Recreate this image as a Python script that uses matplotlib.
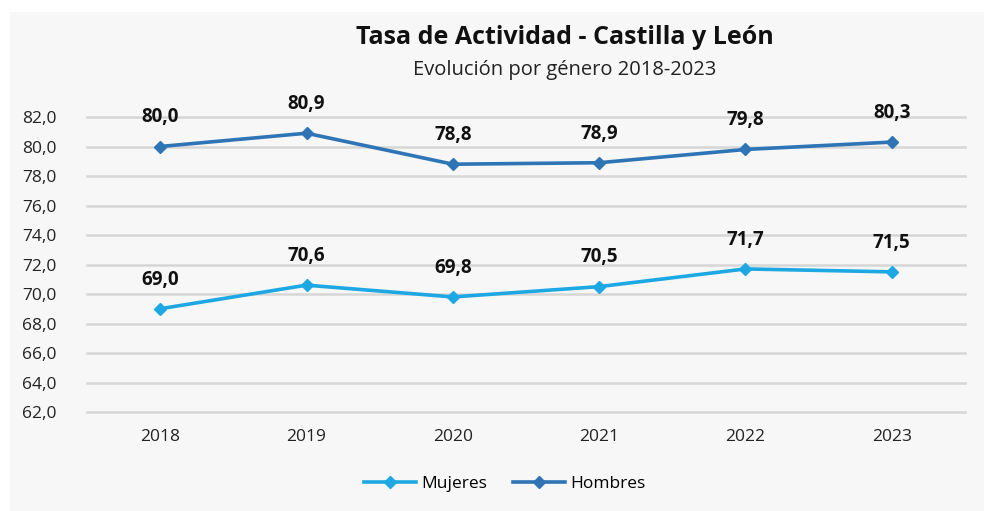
import matplotlib
matplotlib.use("Agg")
import matplotlib.pyplot as plt
from matplotlib.patches import Rectangle
from matplotlib.ticker import FuncFormatter

years = ["2018", "2019", "2020", "2021", "2022", "2023"]
mujeres = [69.0, 70.6, 69.8, 70.5, 71.7, 71.5]
hombres = [80.0, 80.9, 78.8, 78.9, 79.8, 80.3]
yticks = [62, 64, 66, 68, 70, 72, 74, 76, 78, 80, 82]

c_muj = "#1da8e3"
c_hom = "#2f74b5"

plt.rcParams['font.family'] = ['Open Sans', 'DejaVu Sans']

fig = plt.figure(figsize=(9.84, 5.11), dpi=100)
fig.patch.set_facecolor("white")
# grey panel behind the chart
fig.patches.append(Rectangle((10 / 984, 0), 1, 1 - 12 / 511, transform=fig.transFigure,
                             facecolor="#f7f7f7", edgecolor="none", zorder=-1))

ax = fig.add_axes([87 / 984, 1 - 412 / 511, (965 - 87) / 984, (412 - 117) / 511])
ax.set_facecolor("none")

x = list(range(len(years)))
ax.plot(x, mujeres, color=c_muj, lw=2.6, marker="D", ms=6, label="Mujeres", clip_on=False, zorder=3)
ax.plot(x, hombres, color=c_hom, lw=2.6, marker="D", ms=6, label="Hombres", clip_on=False, zorder=3)

for series in (mujeres, hombres):
    for xi, v in zip(x, series):
        ax.annotate(f"{v:.1f}".replace(".", ","), (xi, v), xytext=(0, 21), textcoords="offset points",
                    ha="center", va="center", fontsize=13.5, fontweight="bold", color="#111111")

ax.set_xlim(-0.5, len(years) - 0.5)
ax.set_ylim(62, 82)
ax.set_yticks(yticks)
ax.yaxis.set_major_formatter(FuncFormatter(lambda v, p: f"{v:.1f}".replace(".", ",")))
ax.set_xticks(x)
ax.set_xticklabels(years)
ax.tick_params(axis="both", length=0, labelsize=12.5, labelcolor="#222222")
ax.tick_params(axis="y", pad=22)
ax.tick_params(axis="x", pad=12)
ax.grid(axis="y", color="#d6d6d6", lw=1.8)
for gl in ax.get_ygridlines():
    gl.set_clip_on(False)
ax.set_axisbelow(True)
for s in ax.spines.values():
    s.set_visible(False)

fig.text(565 / 984, 1 - 38 / 511, "Tasa de Actividad - Castilla y León", ha="center", va="center",
         fontsize=18, fontweight="bold", color="#111111")
fig.text(565 / 984, 1 - 70 / 511, "Evolución por género 2018-2023", ha="center", va="center",
         fontsize=14.5, color="#222222")

fig.legend(loc="center", bbox_to_anchor=(505 / 984, 1 - 484 / 511), ncol=2, frameon=False,
           fontsize=12.5, handlelength=3, columnspacing=1.5, handletextpad=0.3)

plt.savefig("out.png", dpi=100, facecolor=fig.get_facecolor())
